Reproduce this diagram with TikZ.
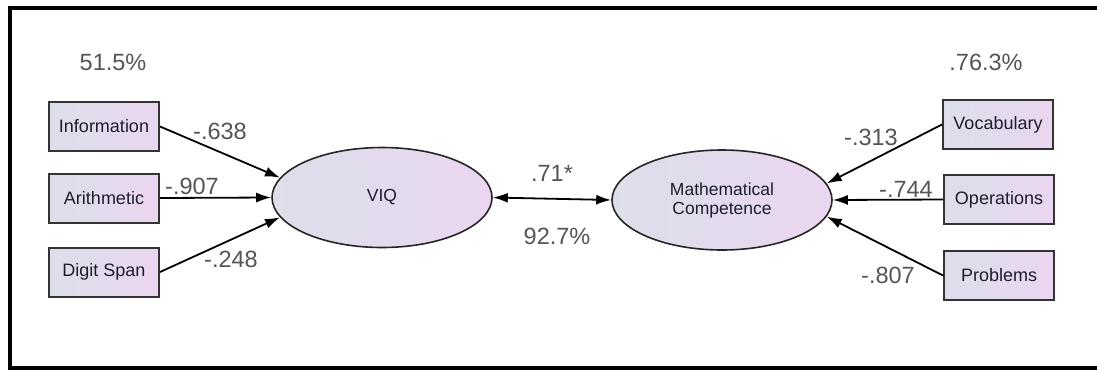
\documentclass[tikz,border=0pt]{standalone}
\usepackage{fontspec}
\setmainfont{Liberation Sans}
\usetikzlibrary{arrows.meta,shapes.geometric}
\definecolor{boxleft}{HTML}{DCDFEA}
\definecolor{boxright}{HTML}{EAD6F0}
\definecolor{numgray}{HTML}{555555}
\definecolor{boxtext}{HTML}{1E1E2A}
\tikzset{
  obsbox/.style={rectangle, draw=black!80, line width=2pt, minimum width=110pt, minimum height=49pt, inner sep=0pt,
    left color=boxleft, right color=boxright, text=boxtext, font=\fontsize{18}{20}\selectfont},
  latent/.style={ellipse, draw=black!85, line width=1.6pt, minimum width=220pt, minimum height=100pt, inner sep=0pt,
    left color=boxleft, right color=boxright, text=boxtext, font=\fontsize{17.5}{19}\selectfont, align=center},
  coef/.style={text=numgray, font=\fontsize{23.5}{25}\selectfont, inner sep=0pt},
  path/.style={draw=black, line width=1.8pt, -{Latex[length=15pt,width=10pt]}},
  biarrow/.style={draw=black, line width=1.8pt, {Latex[length=15pt,width=10pt]}-{Latex[length=15pt,width=10pt]}},
  frame/.style={draw=black, line width=4pt}
}
\begin{document}
\begin{tikzpicture}[x=1pt,y=-1pt]
\useasboundingbox (0,0) rectangle (1097,370);
\fill[white] (0,0) rectangle (1097,370);
\draw[frame] (1100,7.5) -- (9.5,7.5) -- (9.5,368) -- (1100,368);

% observed variables (left)
\node[obsbox] (info) at (104,126.5) {Information};
\node[obsbox] (arith) at (104,198) {Arithmetic};
\node[obsbox] (digit) at (104,272) {Digit Span};

% observed variables (right)
\node[obsbox] (vocab) at (998,124.5) {Vocabulary};
\node[obsbox] (oper) at (999,199.5) {Operations};
\node[obsbox] (prob) at (999,275.5) {Problems};

% latent variables
\node[latent] (viq) at (382,197.5) {VIQ};
\node[latent] (mc) at (722,200) {Mathematical\\Competence};

% paths
\draw[path] (info.east) -- (viq.169);
\draw[path] (arith.east) -- (viq.180);
\draw[path] (digit.east) -- (viq.191);
\draw[path] (vocab.west) -- (mc.9);
\draw[path] (oper.west) -- (mc.0);
\draw[path] (prob.west) -- (mc.351);
\draw[biarrow] (viq.east) -- (mc.west);

% labels
\node[coef] (r1) at (113,62) {51.5\%};
\node[coef] (r2) at (986,62) {.76.3\%};
\node[coef] (c1) at (220,131) {-.638};
\node[coef] (c2) at (192,186) {-.907};
\node[coef] (c3) at (231,259) {-.248};
\node[coef] (c4) at (871,137) {-.313};
\node[coef] (c5) at (906,189) {-.744};
\node[coef] (c6) at (888,275) {-.807};
\node[coef] (c7) at (552,173) {.71*};
\node[coef] (c8) at (557,236) {92.7\%};
\end{tikzpicture}
\end{document}
